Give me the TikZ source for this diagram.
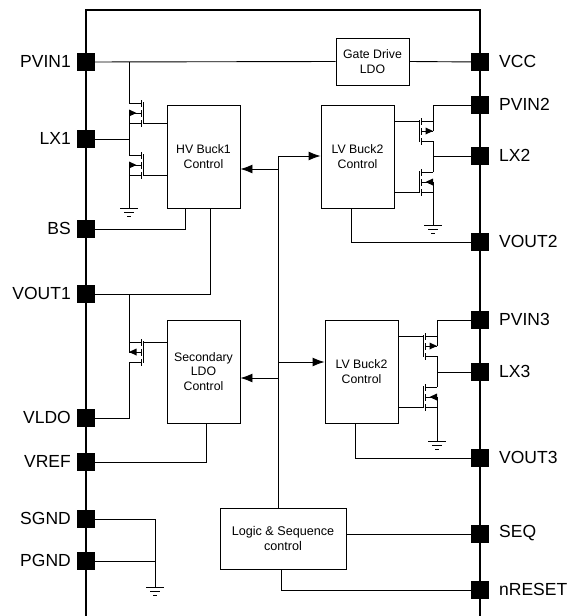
\documentclass[tikz,border=0pt]{standalone}
\usepackage{fontspec}
\setmainfont{Liberation Sans}
\usetikzlibrary{arrows.meta,calc}
\newcommand{\fetcore}{
  \coordinate (-t) at (0,0);
  \coordinate (-m) at (0,10);
  \coordinate (-b) at (0,20);
  \coordinate (-gt) at (14,0);
  \coordinate (-gb) at (14,20);
  \draw[wire] (0,0) -- (12,0) (0,20) -- (12,20);
  \draw[wire] (12,-3) -- (12,4) (12,7) -- (12,14) (12,17) -- (12,24);
  \draw[wire] (14,-1) -- (14,21);
}
\tikzset{
  wire/.style={draw=black,line width=0.9pt},
  bus/.style={draw=black,line width=1.5pt},
  pin/.style={draw=none,fill=black,minimum size=18pt,inner sep=0pt,outer sep=0pt},
  pinl/.style={font=\fontsize{17.5pt}{20pt}\selectfont,anchor=east,inner sep=0pt},
  pinr/.style={font=\fontsize{17.5pt}{20pt}\selectfont,anchor=west,inner sep=0pt},
  block/.style={draw=black,line width=0.9pt,fill=white,inner sep=0pt,align=center,font=\fontsize{12.3pt}{14.5pt}\selectfont},
  ctl/.style={wire,-{Latex[length=12pt,width=9pt]}},
  fetout/.pic={\fetcore
    \draw[wire] (7,10) -- (12,10);
    \fill (0,6.5) -- (7.5,10) -- (0,13.5) -- cycle;
    \draw[wire] (0,10) -- (7,10);},
  fetin/.pic={\fetcore
    \draw[wire] (0,10) -- (12,10);
    \fill (0,10) -- (7.5,6.5) -- (7.5,13.5) -- cycle;},
  gndsym/.pic={
    \coordinate (-top) at (0,0);
    \draw[wire] (-9,0) -- (9,0) (-5,4) -- (5,4) (-2,8) -- (2,8);},
}
\begin{document}
\begin{tikzpicture}[x=1pt,y=-1pt]
\useasboundingbox (0,0) rectangle (569,616);
% package outline
\coordinate (bl) at (86,616);
\coordinate (tl) at (86,10);
\coordinate (tr) at (480,10);
\coordinate (br) at (480,616);
\draw[bus] (bl) -- (tl) -- (tr) -- (br);
% left pins
\foreach \n/\t/\y in {pvina/PVIN1/62,lxa/LX1/139,bs/BS/229,vouta/VOUT1/294,vldo/VLDO/418,vref/VREF/462,sgnd/SGND/519,pgnd/PGND/561}{
  \node[pin] (\n) at (86,\y) {};
  \node[pinl] (\n-l) at (71,\y-1) {\t};
}
% right pins
\foreach \n/\t/\y in {vcc/VCC/62,pvinb/PVIN2/105,lxb/LX2/156,voutb/VOUT2/242,pvinc/PVIN3/320,lxc/LX3/372,voutc/VOUT3/458,seq/SEQ/534,nreset/nRESET/590}{
  \node[pin] (\n) at (480,\y) {};
  \node[pinr] (\n-l) at (499,\y-1) {\t};
}
% blocks
\node[block,minimum width=73pt,minimum height=47pt] (gd) at (372.5,61.5) {Gate Drive\\LDO};
\node[block,minimum width=73pt,minimum height=103pt] (hv) at (203.5,156.5) {HV Buck1\\Control};
\node[block,minimum width=73pt,minimum height=103pt] (lva) at (357.5,156.5) {LV Buck2\\Control};
\node[block,minimum width=73pt,minimum height=103pt] (ldo) at (203.5,371.5) {Secondary\\LDO\\Control};
\node[block,minimum width=73pt,minimum height=103pt] (lvb) at (361.5,371.5) {LV Buck2\\Control};
\node[block,minimum width=126pt,minimum height=61pt,font=\fontsize{12.6pt}{14.5pt}\selectfont] (logic) at (283,538.5) {Logic \& Sequence\\control};
% transistors
\pic (qa) at (129,103) {fetout};
\pic (qb) at (129,155) {fetout};
\pic (qc) at (129,342) {fetin};
\pic[xscale=-1] (qd) at (433,121) {fetin};
\pic[xscale=-1] (qe) at (433,172) {fetout};
\pic[xscale=-1] (qf) at (437,336) {fetin};
\pic[xscale=-1] (qg) at (437,387) {fetout};
% grounds
\pic (ga) at (129,208) {gndsym};
\pic (gb) at (433,225) {gndsym};
\pic (gc) at (437,441) {gndsym};
\pic (gd0) at (155,587) {gndsym};
% power and signal wires
\draw[wire] (pvina) -- (gd.west);
\draw[wire] (gd.east) -- (vcc);
\draw[wire] (qa-t |- pvina) -- (qa-t);
\draw[wire] (qa-m) -- (qb-t);
\draw[wire] (lxa) -- (qa-t |- lxa);
\draw[wire] (qb-m) -- (ga-top);
\draw[wire] (qa-gb) -- (qa-gb -| hv.west);
\draw[wire] (qb-gb) -- (qb-gb -| hv.west);
\coordinate (hvbs) at (185,208);
\coordinate (hvvo) at (210,208);
\draw[wire] (bs) -| (hvbs);
\draw[wire] (vouta) -| (hvvo);
\draw[wire] (qc-t |- vouta) -- (qc-m);
\draw[wire] (qc-b) |- (vldo);
\draw[wire] (qc-gt) -- (qc-gt -| ldo.west);
\coordinate (ldovr) at (206,423);
\draw[wire] (vref) -| (ldovr);
% right power stages
\draw[wire] (pvinb) -| (qd-m);
\draw[wire] (qd-b) -- (qe-t);
\draw[wire] (lxb) -- (qd-b |- lxb);
\draw[wire] (qe-m) -- (gb-top);
\draw[wire] (qd-gt) -- (qd-gt -| lva.east);
\draw[wire] (qe-gb) -- (qe-gb -| lva.east);
\coordinate (lvavo) at (351,208);
\draw[wire] (lvavo) |- (voutb);
\draw[wire] (pvinc) -| (qf-m);
\draw[wire] (qf-b) -- (qg-t);
\draw[wire] (lxc) -- (qf-b |- lxc);
\draw[wire] (qg-m) -- (gc-top);
\draw[wire] (qf-gt) -- (qf-gt -| lvb.east);
\draw[wire] (qg-gb) -- (qg-gb -| lvb.east);
\coordinate (lvbvo) at (355,423);
\draw[wire] (lvbvo) |- (voutc);
% grounds of the chip
\draw[wire] (sgnd) -| (gd0-top);
\draw[wire] (pgnd) -- (gd0-top |- pgnd);
% control bus
\coordinate (ctop) at (278,156);
\coordinate (cbot) at (278,508);
\draw[wire] (cbot) -- (ctop);
\draw[ctl] (ctop) -- (ctop -| lva.west);
\draw[ctl] (278,169) -- (hv.east |- 278,169);
\draw[ctl] (278,362) -- (lvb.west |- 278,362);
\draw[ctl] (278,378) -- (ldo.east |- 278,378);
\draw[wire] (logic.east |- seq) -- (seq);
\coordinate (lgrs) at (281,569);
\draw[wire] (lgrs) |- (nreset);
\end{tikzpicture}
\end{document}
